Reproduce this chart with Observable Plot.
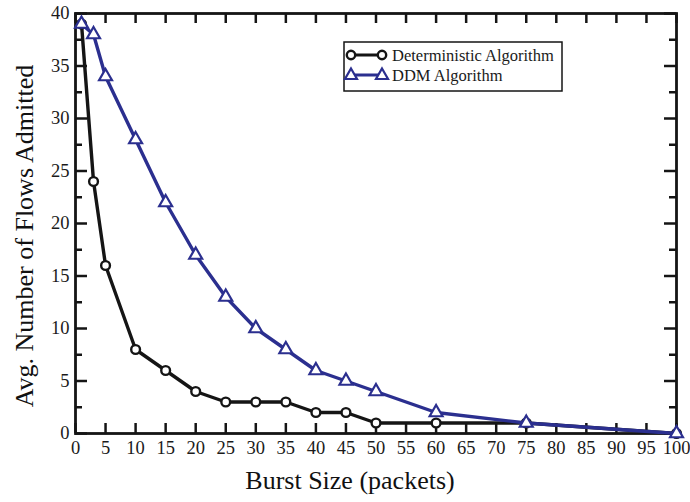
<!DOCTYPE html>
<html>
<head>
<meta charset="utf-8">
<script src="https://cdn.jsdelivr.net/npm/d3@7"></script>
<script src="https://cdn.jsdelivr.net/npm/@observablehq/plot@0.6"></script>
<style>
  html, body { margin: 0; padding: 0; background: #fff; }
  #wrap { position: relative; width: 690px; height: 502px; font-family: 'Liberation Serif', 'Times New Roman', serif; color: #111; }
  #wrap svg text { font-family: 'Liberation Serif', 'Times New Roman', serif !important; }
  .title { position: absolute; font-size: 26px; line-height: 26px; white-space: nowrap; }
</style>
</head>
<body>
<div id="wrap"></div>
<script>
// ---- data ----
const burstSizes = [1, 3, 5, 10, 15, 20, 25, 30, 35, 40, 45, 50, 60, 75, 100];
const deterministicFlows = [39, 24, 16, 8, 6, 4, 3, 3, 3, 2, 2, 1, 1, 1, 0];
const ddmFlows = [39, 38, 34, 28, 22, 17, 13, 10, 8, 6, 5, 4, 2, 1, 0];
const seriesNames = ["Deterministic Algorithm", "DDM Algorithm"];
const xTickValues = [0, 5, 10, 15, 20, 25, 30, 35, 40, 45, 50, 55, 60, 65, 70, 75, 80, 85, 90, 95, 100];
const yTickValues = [0, 5, 10, 15, 20, 25, 30, 35, 40];
const yMinorTickValues = [2.5, 7.5, 12.5, 17.5, 22.5, 27.5, 32.5, 37.5];
const xTitle = "Burst Size (packets)";
const yTitle = "Avg. Number of Flows Admitted";

const black = "#151515";
const blue = "#2b2f8f";
const serif = "'Liberation Serif', 'Times New Roman', serif";

const det = burstSizes.map((x, i) => ({x, y: deterministicFlows[i]}));
const ddm = burstSizes.map((x, i) => ({x, y: ddmFlows[i]}));

const chart = Plot.plot({
  width: 690,
  height: 502,
  marginLeft: 75,
  marginRight: 14,
  marginTop: 13,
  marginBottom: 69,
  style: {fontFamily: serif, fontSize: "18.5px", color: "#1a1a1a", background: "#fff"},
  x: {domain: [0, 100], ticks: xTickValues, tickSize: 0, tickPadding: 7, tickFormat: d => String(d), label: null},
  y: {domain: [0, 40], ticks: yTickValues, tickSize: 0, tickPadding: 6, tickFormat: d => String(d), label: null},
  marks: [
    // inward ticks, bottom and top
    Plot.ruleX(xTickValues, {x: d => d, y1: 0, y2: 0, insetTop: -10, stroke: black, strokeWidth: 2.5}),
    Plot.ruleX(xTickValues, {x: d => d, y1: 40, y2: 40, insetBottom: -10, stroke: black, strokeWidth: 2.5}),
    // inward ticks, left and right (major + minor)
    Plot.ruleY(yTickValues, {y: d => d, x1: 0, x2: 0, insetRight: -12, stroke: black, strokeWidth: 2.5}),
    Plot.ruleY(yMinorTickValues, {y: d => d, x1: 0, x2: 0, insetRight: -7, stroke: black, strokeWidth: 2.5}),
    Plot.ruleY(yTickValues, {y: d => d, x1: 100, x2: 100, insetLeft: -12, stroke: black, strokeWidth: 2.5}),
    Plot.ruleY(yMinorTickValues, {y: d => d, x1: 100, x2: 100, insetLeft: -7, stroke: black, strokeWidth: 2.5}),
    Plot.frame({stroke: black, strokeWidth: 2.8}),
    // series
    Plot.line(det, {x: "x", y: "y", stroke: black, strokeWidth: 3.4}),
    Plot.dot(det, {x: "x", y: "y", r: 4.4, symbol: "circle", fill: "white", stroke: black, strokeWidth: 2.4}),
    Plot.line(ddm, {x: "x", y: "y", stroke: blue, strokeWidth: 3.4}),
    Plot.dot(ddm, {x: "x", y: "y", r: 4.8, symbol: "triangle", fill: "white", stroke: blue, strokeWidth: 2.2})
  ]
});

const wrap = document.getElementById("wrap");
wrap.appendChild(chart);

// axis titles
const xt = document.createElement("div");
xt.className = "title";
xt.textContent = xTitle;
xt.style.left = "350px";
xt.style.top = "468px";
xt.style.transform = "translateX(-50%)";
wrap.appendChild(xt);

const yt = document.createElement("div");
yt.className = "title";
yt.textContent = yTitle;
yt.style.left = "24.7px";
yt.style.top = "236px";
yt.style.transform = "translate(-50%, -50%) rotate(-90deg)";
wrap.appendChild(yt);

// legend
const ns = "http://www.w3.org/2000/svg";
const lg = document.createElementNS(ns, "svg");
lg.setAttribute("width", 690);
lg.setAttribute("height", 120);
lg.style.position = "absolute";
lg.style.left = "0px";
lg.style.top = "0px";
function el(name, attrs, parent) {
  const e = document.createElementNS(ns, name);
  for (const k in attrs) e.setAttribute(k, attrs[k]);
  (parent || lg).appendChild(e);
  return e;
}
el("rect", {x: 344, y: 42, width: 218, height: 49, fill: "white", stroke: black, "stroke-width": 1.5});
const rows = [
  {name: seriesNames[0], color: black, sym: "circle", cy: 55},
  {name: seriesNames[1], color: blue, sym: "triangle", cy: 75}
];
for (const r of rows) {
  el("line", {x1: 350, x2: 383, y1: r.cy, y2: r.cy, stroke: r.color, "stroke-width": 3});
  for (const cx of [351, 382]) {
    if (r.sym === "circle") {
      el("circle", {cx, cy: r.cy, r: 4.2, fill: "white", stroke: r.color, "stroke-width": 2.4});
    } else {
      el("path", {d: `M${cx},${r.cy - 6.5}L${cx + 6},${r.cy + 4}L${cx - 6},${r.cy + 4}Z`, fill: "white", stroke: r.color, "stroke-width": 2.2});
    }
  }
  const t = el("text", {x: 392, y: r.cy + 5.5, "font-size": "16.5px", fill: "#1a1a1a"});
  t.style.fontFamily = serif;
  t.textContent = r.name;
}
wrap.appendChild(lg);
</script>
</body>
</html>
